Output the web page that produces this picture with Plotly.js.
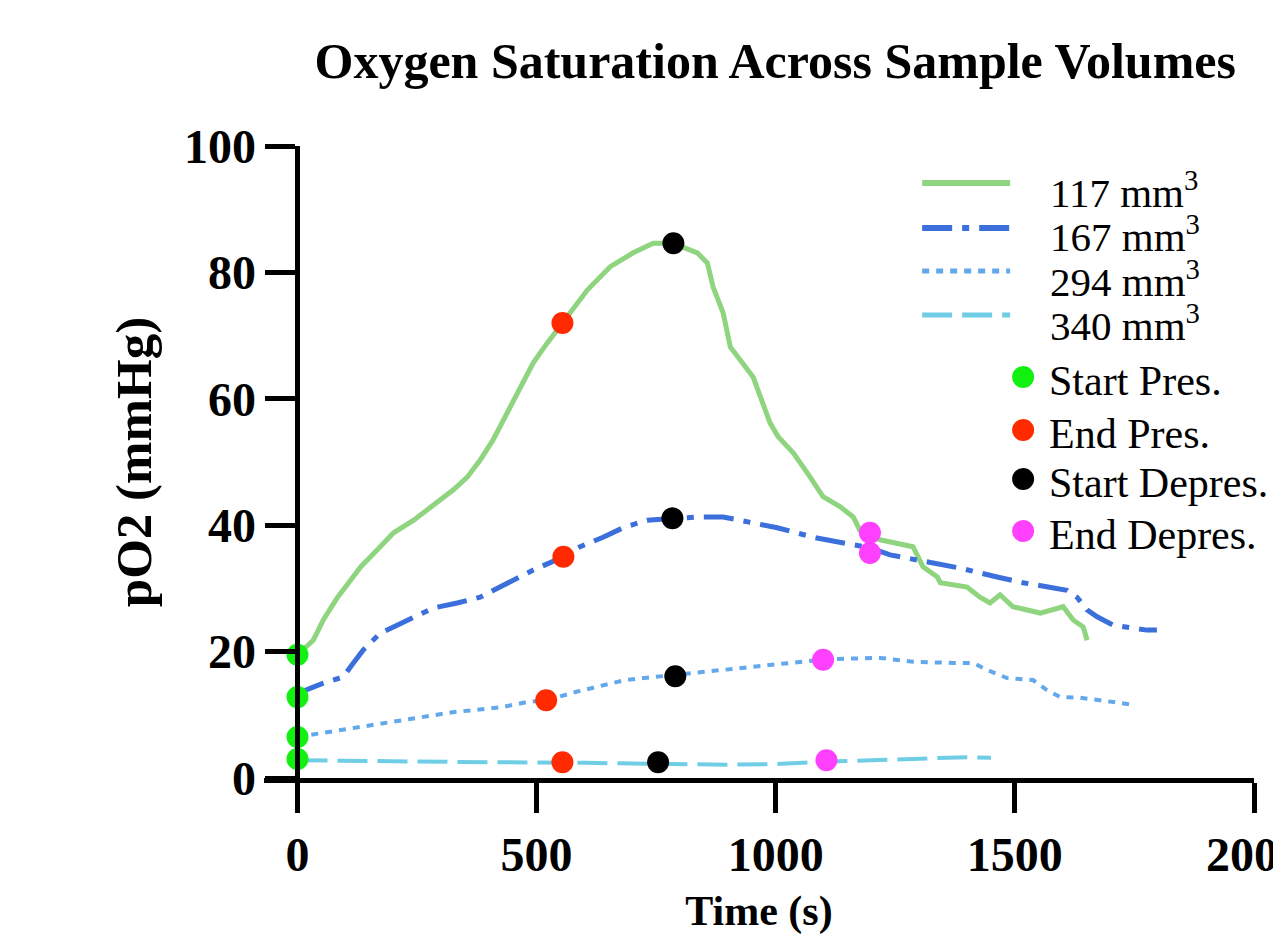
<!DOCTYPE html>
<html>
<head>
<meta charset="utf-8">
<script src="https://cdn.plot.ly/plotly-3.0.1.min.js"></script>
<style>html,body{margin:0;padding:0;background:#fff;}#chart{width:1273px;height:935px;}</style>
</head>
<body>
<div id="chart"></div>
<script>
// ---- data ----
const seriesNames = ['117 mm<sup>3</sup>', '167 mm<sup>3</sup>', '294 mm<sup>3</sup>', '340 mm<sup>3</sup>'];

const time117 = [0,33,54,84,111,132,167,201,243,284,326,355,382,409,439,466,493,522,554,577,606,654,702,744,786,836,857,869,890,905,926,953,968,988,1005,1037,1072,1099,1135,1162,1176,1218,1287,1308,1338,1344,1400,1427,1448,1469,1496,1553,1601,1622,1643,1651];
const po2_117  = [19.5,21.8,25,28.6,31.3,33.4,36.1,38.8,40.8,43.2,45.6,47.6,50.3,53.5,57.8,61.9,65.7,68.8,72,74.5,77.2,80.9,83.1,84.6,84.6,83.1,81.5,77.7,73.6,68.2,66.1,63.4,60.3,56.2,54,51.4,47.6,44.5,42.9,41.3,39.2,37.7,36.6,33.4,31.8,30.9,30.2,28.6,27.7,29,27.1,26.1,27.1,25,23.9,21.8];

const time167 = [0,17,54,96,111,138,173,201,242,284,334,382,410,451,493,556,591,639,681,731,784,836,890,940,1003,1078,1149,1198,1239,1323,1386,1463,1517,1609,1630,1651,1672,1705,1776,1797];
const po2_167  = [12.8,13.9,15,16,17.6,20.3,22.9,23.9,25.5,26.9,27.7,28.6,29.7,31.3,32.9,35,36.6,38.1,39.6,40.8,41.1,41.3,41.3,40.5,39.6,38.1,37.2,36.4,35.3,34,33.2,31.8,30.9,29.7,28.6,26.6,25.5,24.2,23.4,23.4];

const time294 = [0,25,119,222,324,426,479,521,581,685,788,890,993,1106,1218,1287,1371,1413,1442,1484,1538,1567,1595,1636,1678,1747];
const po2_294  = [6.5,6.8,7.9,9.2,10.4,11.2,12.0,12.3,13.6,15.5,16.3,17.1,17.9,18.8,19.0,18.4,18.2,18.2,17.1,15.8,15.5,13.9,12.8,12.7,12.3,11.6];

const time340 = [0,200,400,600,800,900,1000,1100,1200,1300,1400,1450];
const po2_340  = [2.8,2.6,2.5,2.4,2.2,2.1,2.2,2.6,2.8,3.1,3.3,3.2];

const eventNames = ['Start Pres.', 'End Pres.', 'Start Depres.', 'End Depres.'];
const startPresT = [0, 0, 0, 0];
const startPresV = [19.5, 12.8, 6.5, 3.0];
const endPresT = [554, 556, 520, 554];
const endPresV = [72, 35, 12.3, 2.5];
const startDepT = [786, 784, 790, 754];
const startDepV = [84.6, 41.1, 16.1, 2.5];
const endDepT = [1197, 1197, 1099, 1106];
const endDepV = [38.8, 35.6, 18.7, 2.8];

const xTickVals = [0, 500, 1000, 1500, 2000];
const yTickVals = [0, 20, 40, 60, 80, 100];

// ---- styles ----
const FONT = '"Liberation Serif", "Times New Roman", Times, serif';
const lineColors = ['#8fd47f', '#3b6fdc', '#62a8ea', '#6fcde6'];
const lineDash = ['solid', '30px,10px,7px,10px', '7px,7px', '30px,10px'];
const lineWidth = [5, 5, 4, 4];
const markerColors = ['#11f011', '#ff2a00', '#000000', '#ff40ff'];

const xs = [time117, time167, time294, time340];
const ys = [po2_117, po2_167, po2_294, po2_340];
const traces = [];
for (let i = 0; i < 4; i++) {
  traces.push({
    type: 'scatter', mode: 'lines', x: xs[i], y: ys[i], name: seriesNames[i],
    line: {color: lineColors[i], width: lineWidth[i], dash: lineDash[i]},
    showlegend: false
  });
}
const evX = [startPresT, endPresT, startDepT, endDepT];
const evY = [startPresV, endPresV, startDepV, endDepV];
for (let i = 0; i < 4; i++) {
  traces.push({
    type: 'scatter', mode: 'markers', x: evX[i], y: evY[i], name: eventNames[i],
    marker: {color: markerColors[i], size: 22}, showlegend: false, cliponaxis: false
  });
}

// plot area geometry
const L = 263.5, R = 19, T = 146, B = 157;
const W = 1273 - L - R, H = 935 - T - B;
const xMin = -70, xMax = 2000;
const px = (xp) => (xp - L) / W;          // pixel -> paper x
const py = (yp) => (935 - B - yp) / H;    // pixel -> paper y

// legend drawn as shapes + annotations (long line samples, tight spacing)
const shapes = [];
const annotations = [];
const legY = [183, 228, 271, 315];
const legTextY = [190, 234, 279, 323];
for (let i = 0; i < 4; i++) {
  shapes.push({
    type: 'line', xref: 'paper', yref: 'paper',
    x0: px(922), x1: px(1010), y0: py(legY[i]), y1: py(legY[i]),
    line: {color: lineColors[i], width: lineWidth[i] + 1, dash: lineDash[i]}
  });
  annotations.push({
    xref: 'paper', yref: 'paper', x: px(1048), y: py(legTextY[i]),
    xanchor: 'left', yanchor: 'middle', showarrow: false,
    text: seriesNames[i], font: {family: FONT, size: 41, color: '#000'}
  });
}
const mkY = [377, 430, 479, 531];
for (let i = 0; i < 4; i++) {
  shapes.push({
    type: 'circle', xref: 'paper', yref: 'paper',
    xsizemode: 'pixel', ysizemode: 'pixel',
    xanchor: px(1023), yanchor: py(mkY[i]),
    x0: -11, x1: 11, y0: -11, y1: 11,
    fillcolor: markerColors[i], line: {width: 0}
  });
  annotations.push({
    xref: 'paper', yref: 'paper', x: px(1047), y: py(mkY[i] + 4),
    xanchor: 'left', yanchor: 'middle', showarrow: false,
    text: eventNames[i], font: {family: FONT, size: 42, color: '#000'}
  });
}

const layout = {
  width: 1273, height: 935,
  paper_bgcolor: '#fff', plot_bgcolor: '#fff',
  margin: {l: L, r: R, t: T, b: B},
  font: {family: FONT, color: '#000'},
  showlegend: false,
  title: {
    text: '<b>Oxygen Saturation Across Sample Volumes</b>',
    font: {family: FONT, size: 50, color: '#000'},
    xref: 'paper', x: px(775), xanchor: 'center',
    yref: 'container', y: 1 - 60 / 935, yanchor: 'middle'
  },
  xaxis: {
    range: [xMin, xMax], tickvals: xTickVals, ticktext: xTickVals.map(String),
    showgrid: false, zeroline: false, showline: true, linecolor: '#000', linewidth: 5,
    ticks: 'outside', ticklen: 30, tickwidth: 5, tickcolor: '#000',
    ticklabeloverflow: 'allow',
    tickfont: {family: FONT, size: 48, color: '#000', weight: 'bold'},
    title: {text: '<b>Time (s)</b>', font: {family: FONT, size: 42, color: '#000'}, standoff: 26},
    fixedrange: true
  },
  yaxis: {
    range: [0, 100], tickvals: yTickVals,
    anchor: 'free', position: (0 - xMin) / (xMax - xMin),
    showgrid: false, zeroline: false, showline: true, linecolor: '#000', linewidth: 5,
    ticks: 'outside', ticklen: 30, tickwidth: 5, tickcolor: '#000',
    tickfont: {family: FONT, size: 48, color: '#000', weight: 'bold'},
    title: {text: '<b>pO2 (mmHg)</b>', font: {family: FONT, size: 51, color: '#000'}, standoff: 15},
    fixedrange: true
  },
  shapes: shapes,
  annotations: annotations
};

Plotly.newPlot('chart', traces, layout, {displayModeBar: false});
</script>
</body>
</html>
